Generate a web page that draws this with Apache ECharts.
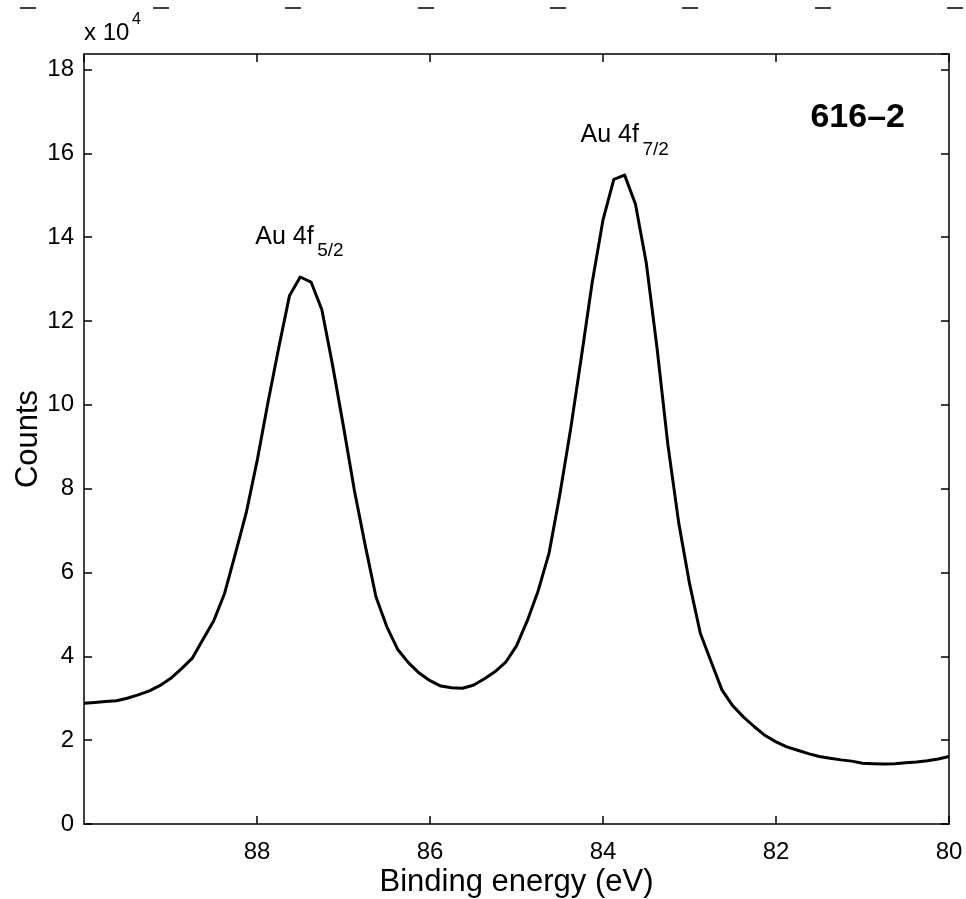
<!DOCTYPE html>
<html>
<head>
<meta charset="utf-8">
<script src="https://cdn.jsdelivr.net/npm/echarts@6/dist/echarts.min.js"></script>
<style>
html,body{margin:0;padding:0;background:#fff;}
#chart{width:966px;height:899px;}
</style>
</head>
<body>
<div id="chart"></div>
<script>
// Binding energy (eV), one point every 0.125 eV
const energies = [90, 89.875, 89.75, 89.625, 89.5, 89.375, 89.25, 89.125, 89, 88.875,
  88.75, 88.625, 88.5, 88.375, 88.25, 88.125, 88, 87.875, 87.75, 87.625,
  87.5, 87.375, 87.25, 87.125, 87, 86.875, 86.75, 86.625, 86.5, 86.375,
  86.25, 86.125, 86, 85.875, 85.75, 85.625, 85.5, 85.375, 85.25, 85.125,
  85, 84.875, 84.75, 84.625, 84.5, 84.375, 84.25, 84.125, 84, 83.875,
  83.75, 83.625, 83.5, 83.375, 83.25, 83.125, 83, 82.875, 82.75, 82.625,
  82.5, 82.375, 82.25, 82.125, 82, 81.875, 81.75, 81.625, 81.5, 81.375,
  81.25, 81.125, 81, 80.875, 80.75, 80.625, 80.5, 80.375, 80.25, 80.125, 80];
// Counts
const counts = [28800, 29000, 29200, 29400, 30000, 30800, 31700, 33000, 34700, 37000,
  39500, 44000, 48500, 55000, 64500, 74200, 86500, 100400, 113500, 126000,
  130500, 129300, 122700, 109300, 94800, 79700, 66600, 54200, 47100, 41700,
  38500, 36000, 34200, 32900, 32500, 32400, 33100, 34600, 36300, 38600,
  42500, 48500, 55600, 64500, 78500, 94100, 111400, 129200, 144100, 153800,
  154800, 147900, 133900, 113500, 90500, 71900, 57400, 45500, 38700, 32000,
  28200, 25500, 23200, 21100, 19600, 18400, 17600, 16800, 16100, 15700,
  15300, 15000, 14500, 14400, 14300, 14400, 14600, 14800, 15100, 15500, 16100];
const xTickLabels = [88, 86, 84, 82, 80];
const yTickLabels = [0, 2, 4, 6, 8, 10, 12, 14, 16, 18];
const yScale = 10000;
const peakLabels = [
  {main: 'Au 4f', sub: '5/2', e: 88.02, v: 140000},
  {main: 'Au 4f', sub: '7/2', e: 84.26, v: 164300}
];
const sampleName = '616\u20132';

const FONT = '"Liberation Sans", Arial, Helvetica, sans-serif';
const chart = echarts.init(document.getElementById('chart'), null, {renderer: 'canvas'});

const axisLineStyle = {color: '#000', width: 1.5};
function xAxisCfg(pos, showLabel) {
  return {
    type: 'value', min: 80, max: 90, interval: 2, inverse: true, position: pos,
    axisLine: {show: true, onZero: false, lineStyle: axisLineStyle},
    axisTick: {show: true, inside: true, length: 8, lineStyle: axisLineStyle},
    splitLine: {show: false},
    axisLabel: {
      show: showLabel, color: '#000', fontSize: 24, fontFamily: FONT, margin: 16,
      showMaxLabel: false, showMinLabel: true,
      formatter: v => xTickLabels.indexOf(v) >= 0 ? String(v) : ''
    },
    name: showLabel ? 'Binding energy (eV)' : '',
    nameLocation: 'middle', nameGap: 43, nameMoveOverlap: false,
    nameTextStyle: {color: '#000', fontSize: 31, fontFamily: FONT}
  };
}
function yAxisCfg(pos, showLabel) {
  return {
    type: 'value', min: 0, max: 183700, interval: 20000, position: pos,
    axisLine: {show: true, onZero: false, lineStyle: axisLineStyle},
    axisTick: {show: true, inside: true, length: 8, lineStyle: axisLineStyle},
    splitLine: {show: false},
    axisLabel: {
      show: showLabel, color: '#000', fontSize: 24, fontFamily: FONT, margin: 10,
      showMaxLabel: false,
      formatter: v => yTickLabels.indexOf(v / yScale) >= 0 ? String(v / yScale) : ''
    },
    name: showLabel ? 'Counts' : '',
    nameLocation: 'middle', nameGap: 40, nameMoveOverlap: false,
    nameTextStyle: {color: '#000', fontSize: 31, fontFamily: FONT}
  };
}

chart.setOption({
  animation: false,
  backgroundColor: '#fff',
  grid: {left: 84, right: 17, top: 54, bottom: 75, containLabel: false, outerBoundsMode: 'none'},
  xAxis: [xAxisCfg('bottom', true), xAxisCfg('top', false)],
  yAxis: [yAxisCfg('left', true), yAxisCfg('right', false)],
  series: [{
    type: 'line',
    xAxisIndex: 0, yAxisIndex: 0,
    data: energies.map((e, i) => [e, counts[i]]),
    showSymbol: false,
    smooth: false,
    lineStyle: {color: '#000', width: 3, join: 'round'},
    clip: true
  }]
});

// text annotations anchored to data coordinates
const graphics = [];
peakLabels.forEach(p => {
  const pt = chart.convertToPixel({xAxisIndex: 0, yAxisIndex: 0}, [p.e, p.v]);
  graphics.push({type: 'text', x: pt[0], y: pt[1],
    style: {text: p.main, fill: '#000', font: '25px ' + FONT, textAlign: 'left', textVerticalAlign: 'middle'}});
  graphics.push({type: 'text', x: pt[0] + 62, y: pt[1] + 14,
    style: {text: p.sub, fill: '#000', font: '19px ' + FONT, textAlign: 'left', textVerticalAlign: 'middle'}});
});
graphics.push({type: 'text', right: 61, top: 101,
  style: {text: sampleName, fill: '#000', font: 'bold 34px ' + FONT}});
// exponent label
graphics.push({type: 'text', left: 84, top: 21,
  style: {text: 'x 10', fill: '#000', font: '24px ' + FONT}});
graphics.push({type: 'text', left: 132, top: 12,
  style: {text: '4', fill: '#000', font: '16px ' + FONT}});
// stray tick marks at the top edge of the image
[28, 161, 293, 426, 558, 690, 823, 955].forEach(cx => {
  graphics.push({type: 'line', shape: {x1: cx - 8, y1: 8, x2: cx + 8, y2: 8},
    style: {stroke: '#000', lineWidth: 1.5}});
});
chart.setOption({graphic: graphics});
</script>
</body>
</html>
